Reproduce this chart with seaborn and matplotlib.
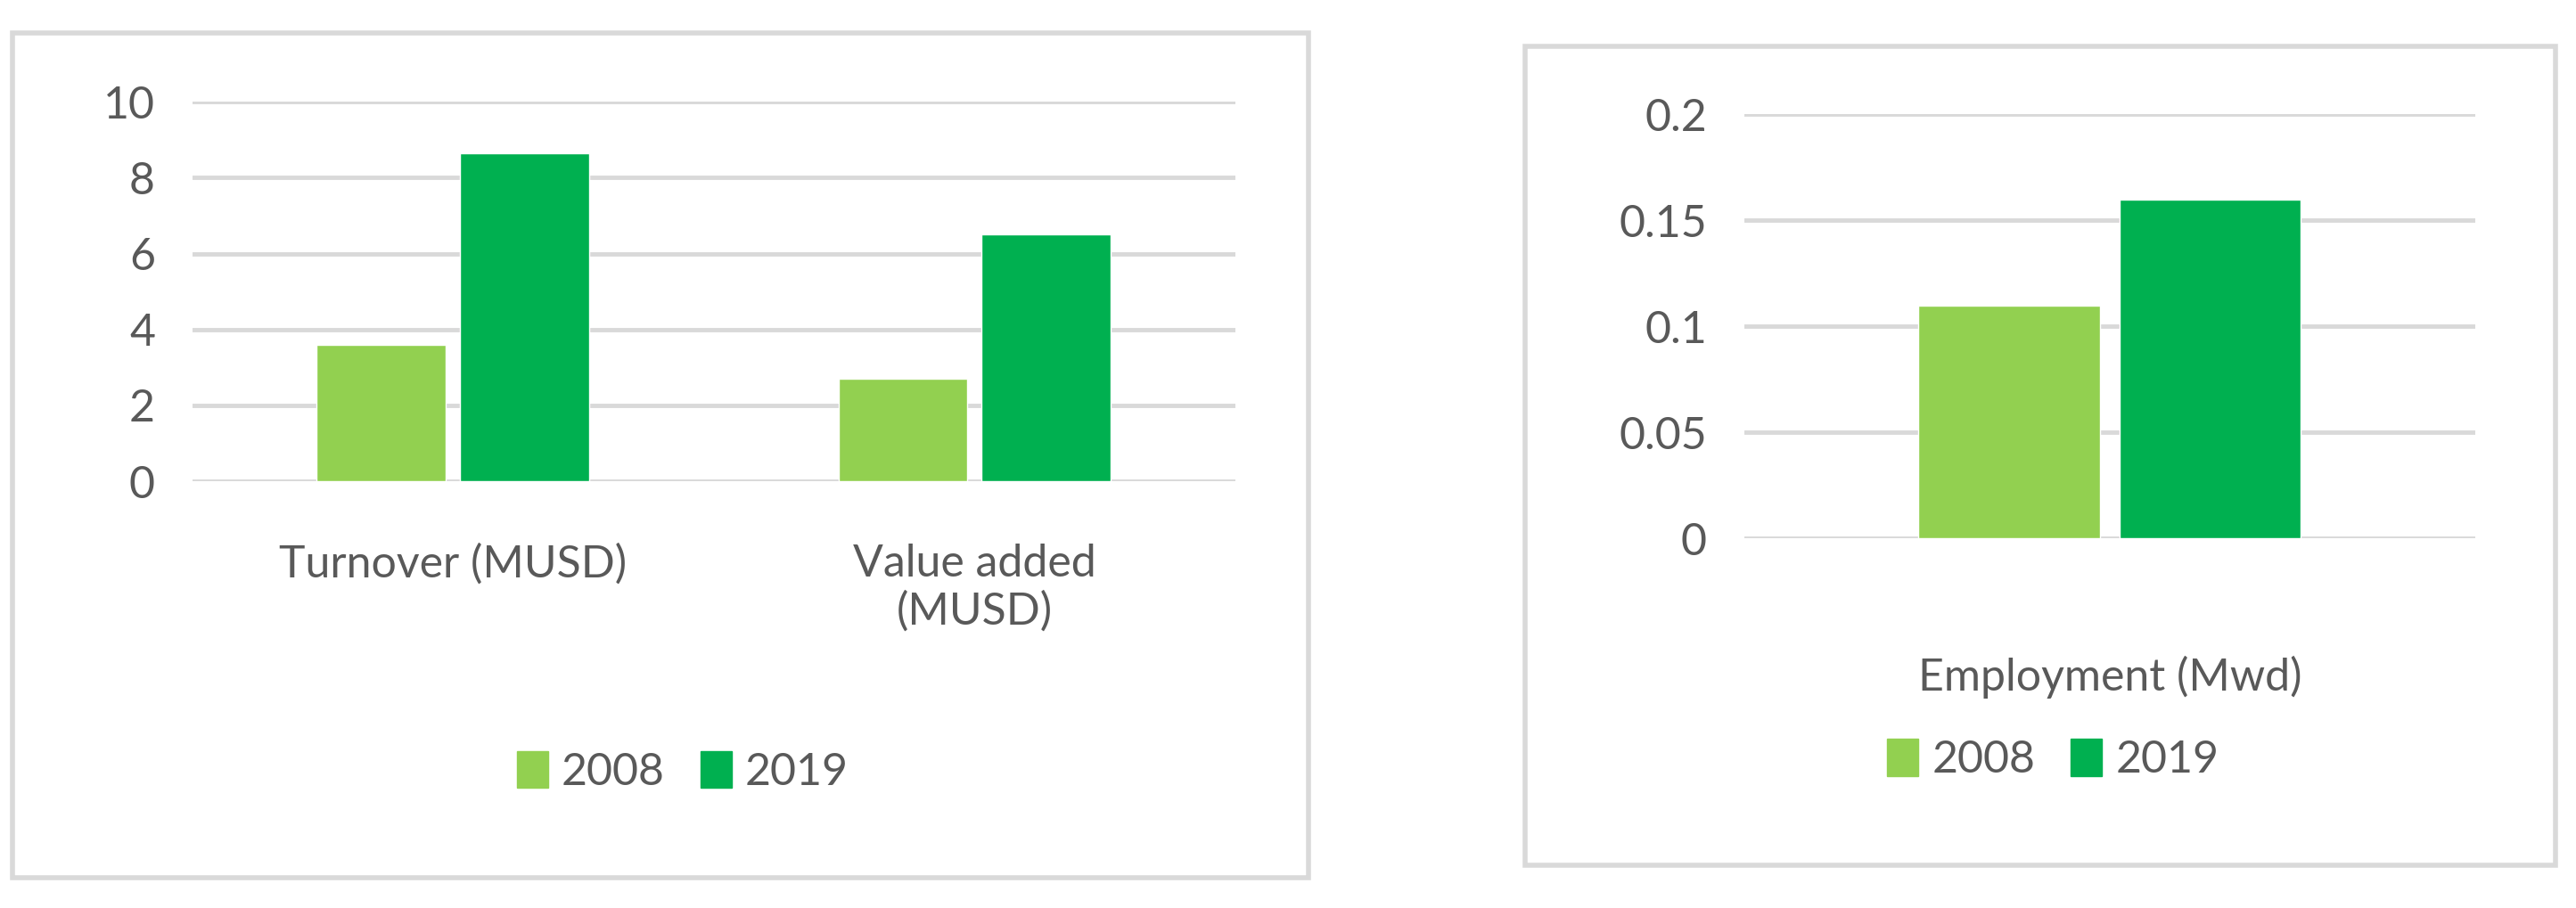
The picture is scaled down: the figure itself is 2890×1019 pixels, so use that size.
import pandas as pd
import numpy as np
import matplotlib.pyplot as plt
import matplotlib.patches as mpatches
import seaborn as sns

# data
left_cats = ["Turnover (MUSD)", "Value added\n(MUSD)"]
left_2008 = [3.6, 2.7]
left_2019 = [8.65, 6.5]
right_cats = ["Employment (Mwd)"]
right_2008 = [0.11]
right_2019 = [0.16]
years = ["2008", "2019"]
colors = ["#92D050", "#00B050"]

sns.set_theme(style="white")
plt.rcParams['font.family'] = ['Lato', 'DejaVu Sans']
txt = "#595959"
grid = "#D9D9D9"

fig = plt.figure(figsize=(28.9, 10.19), dpi=100)

# outer frames
for x0, y0, w, h in [(0.005, 0.033, 0.503, 0.931), (0.592, 0.047, 0.400, 0.902)]:
    fig.add_artist(mpatches.Rectangle((x0, y0), w, h, transform=fig.transFigure,
                                      fill=False, edgecolor=grid, linewidth=4))

def panel(rect, cats, a, b, ymax, ystep, width, pad, ticklabels):
    ax = fig.add_axes(rect)
    df = pd.DataFrame({"cat": cats * 2, "year": [years[0]] * len(cats) + [years[1]] * len(cats),
                       "val": a + b})
    sns.barplot(data=df, x="cat", y="val", hue="year", palette=colors, width=width,
                gap=0.1, ax=ax, legend=False, saturation=1)
    ax.set_ylim(0, ymax)
    ticks = np.arange(0, ymax + ystep / 2, ystep)
    ax.set_yticks(ticks)
    ax.set_yticklabels(ticklabels)
    for t in ticks:
        ax.axhline(t, color=grid, linewidth=3.5, zorder=0)
    for s in ax.spines.values():
        s.set_visible(False)
    ax.set_xlabel("")
    ax.set_ylabel("")
    ax.tick_params(axis="x", length=0, pad=pad, labelsize=36, labelcolor=txt)
    ax.tick_params(axis="y", length=0, pad=30, labelsize=36, labelcolor=txt)
    ax.set_xlim(-0.5, len(cats) - 0.5)
    return ax

panel([0.0746, 0.470, 0.405, 0.418], left_cats, left_2008, left_2019, 10, 2, 0.55, 50,
      ["0", "2", "4", "6", "8", "10"])
panel([0.677, 0.407, 0.284, 0.467], right_cats, right_2008, right_2019, 0.2, 0.05, 0.55, 95,
      ["0", "0.05", "0.1", "0.15", "0.2"])

handles = [mpatches.Patch(color=c, label=y) for c, y in zip(colors, years)]
for cx, cy in [(0.265, 0.15), (0.797, 0.163)]:
    fig.legend(handles=handles, loc="center", bbox_to_anchor=(cx, cy), ncol=2, frameon=False,
               fontsize=36, labelcolor=txt, handlelength=0.7, handleheight=0.9,
               handletextpad=0.3, columnspacing=0.8)

fig.savefig("out.png", dpi=100)
